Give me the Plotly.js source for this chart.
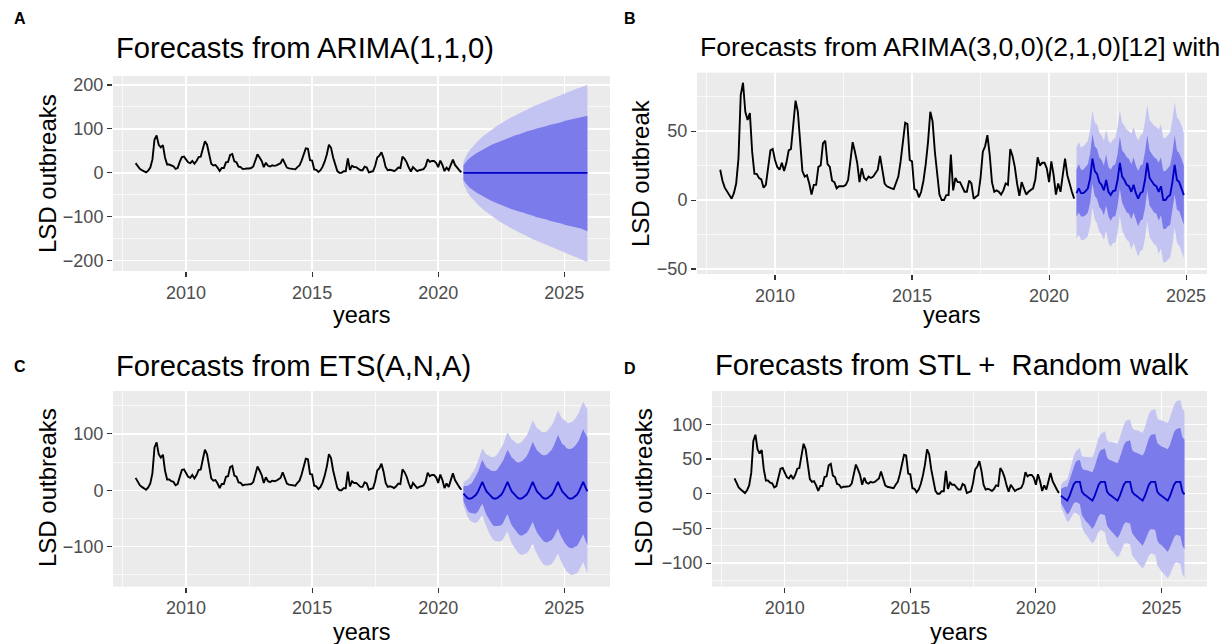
<!DOCTYPE html>
<html>
<head>
<meta charset="utf-8">
<script src="https://cdn.plot.ly/plotly-3.0.1.min.js"></script>
<style>html,body{margin:0;padding:0;background:#fff;}#chart{width:1223px;height:644px;}</style>
</head>
<body>
<div id="chart"></div>
<script>
// ---------- data ----------
const histStart = 2008;            // monthly series, Jan 2008 .. Dec 2020
const hist = [
  22, 14, 9, 6, 3, 1, 5, 12, 30, 76, 85, 64,
  58, 63, 35, 19, 19, 16, 15, 9, 11, 25, 36, 37,
  29, 24, 22, 27, 21, 27, 36, 37, 55, 72, 64, 40,
  21, 17, 18, 12, 4, 11, 11, 24, 25, 41, 43, 26,
  24, 14, 13, 8.5, 10, 10, 10, 11, 14.5, 28, 42, 35,
  27, 13, 23, 16, 14.5, 17, 16, 17, 20, 22, 32, 20,
  12, 10, 9, 8.5, 8, 13, 17, 28, 42, 56, 55, 29,
  28, 8, 7, 2, 6, 14, 26, 42, 64, 57, 35, 18,
  4, 0, 0, 3.6, 3.6, 33, 7, 16, 13, 13, 9, 6,
  6, 14, 12, 1, 2.4, 3.6, 16, 35, 39, 47, 33, 13,
  6, 7, 6, 4, 7, 12, 11, 37, 32, 24, 12, 3,
  13, 8.5, 4, 6, 7, 8.5, 15, 31, 25, 27, 27, 23,
  13, 28, 18, 4, 12, 6, 18, 30, 18, 11, 6, 1
];
const fcStart = 2021;              // forecasts start Jan 2021

// A: ARIMA(1,1,0), 60 months
const aMean = [0,0,0,0,0,0,0,0,0,0,0,0, 0,0,0,0,0,0,0,0,0,0,0,0, 0,0,0,0,0,0,0,0,0,0,0,0, 0,0,0,0,0,0,0,0,0,0,0,0, 0,0,0,0,0,0,0,0,0,0,0,0];
const aHi80 = [17,24,29,34,38,41,44,47,50,53,56,58, 61,63,65,67,70,72,73,75,77,79,81,83, 84,86,87,89,90,92,94,95,96,98,99,101, 102,103,105,106,107,109,110,111,112,114,115,116, 118,119,120,121,122,124,125,125,127,128,129,130];
const aLo80 = [-17,-24,-29,-34,-38,-41,-44,-47,-50,-53,-56,-58, -61,-63,-65,-67,-70,-72,-73,-75,-77,-79,-81,-83, -84,-86,-87,-89,-90,-92,-94,-95,-96,-98,-99,-101, -102,-103,-105,-106,-107,-109,-110,-111,-112,-114,-115,-116, -118,-119,-120,-121,-122,-124,-125,-126,-127,-129,-131,-133];
const aHi95 = [26,37,45,52,58,63,68,73,78,82,86,89, 93,97,100,103,107,110,113,116,118,121,124,127, 129,132,134,137,139,141,144,146,148,151,153,155, 157,159,161,163,165,167,169,171,173,175,177,179, 181,183,184,186,188,190,192,193,195,197,198,200];
const aLo95 = [-26,-37,-45,-52,-58,-63,-68,-73,-78,-82,-86,-89, -93,-97,-100,-103,-107,-110,-113,-116,-118,-121,-124,-127, -129,-132,-134,-137,-139,-141,-144,-146,-148,-151,-153,-155, -157,-159,-161,-163,-165,-167,-169,-171,-173,-175,-177,-179, -181,-183,-185,-187,-189,-191,-193,-195,-197,-199,-201,-203];

// B: ARIMA(3,0,0)(2,1,0)[12], 48 months
const bMean = [5,8.5,5,5,6.5,8.5,16,30,21,19,13,11, 7,14.5,6,3.6,6.5,7,14.5,27,17,14.5,11,10, 6,11,5,1,5,6,14.5,27,16,13,11,10, 6,10,0,0,2.4,3.6,13,25.5,14.5,13,8.5,3.6];
const bHi80 = [22,26,22,22,24,26,34,48,39,37,31,29, 25,33,24,22,25,26,33,46,36,34,31,30, 26,31,25,21,25,26,35,47,36,33,31,30, 27,31,21,21,23,25,34,47,36,34,30,25];
const bLo80 = [-12,-9,-12,-12,-11,-9,-2,12,3,1,-5,-7, -11,-4,-12,-15,-12,-12,-4,8,-2,-5,-9,-10, -14,-9,-15,-19,-15,-14,-6,7,-4,-7,-9,-10, -15,-11,-21,-21,-19,-18,-8,4,-7,-8,-13,-18];
const bHi95 = [38,42,38,39,41,43,51,65,56,55,49,47, 43,51,43,41,44,45,53,65,56,54,51,50, 48,53,47,43,47,48,57,69,58,56,54,53, 51,55,45,45,47,49,58,71,60,58,54,49];
const bLo95 = [-28,-25,-29,-29,-28,-26,-19,-5,-14,-17,-23,-25, -29,-22,-31,-34,-31,-31,-24,-11,-22,-25,-29,-30, -36,-31,-37,-41,-37,-36,-28,-15,-27,-30,-32,-33, -39,-35,-45,-45,-43,-42,-33,-20,-31,-33,-37,-42];

// C: ETS(A,N,A), 60 months
const cMean = [-6,-11,-14,-15,-14,-11,-8,-2,7,15,6,-2, -6,-11,-14,-15,-14,-11,-8,-2,7,15,6,-2, -6,-11,-14,-15,-14,-11,-8,-2,7,15,6,-2, -6,-11,-14,-15,-14,-11,-8,-2,7,15,6,-2, -6,-11,-14,-15,-14,-11,-8,-2,7,15,6,-2];
const cHi80 = [7,7,8,10,13,19,25,33,44,54,46,40, 38,35,34,34,36,41,46,53,63,72,65,58, 55,51,49,50,52,56,60,67,77,86,78,71, 68,64,62,62,64,68,72,79,89,98,90,82, 80,75,73,73,75,78,83,89,99,108,100,93];
const cLo80 = [-19,-29,-36,-40,-41,-41,-41,-37,-30,-24,-34,-44, -50,-57,-62,-64,-64,-63,-62,-57,-49,-42,-53,-62, -67,-73,-77,-80,-80,-78,-76,-71,-63,-56,-66,-75, -80,-86,-90,-92,-92,-90,-88,-83,-75,-68,-78,-86, -92,-97,-101,-103,-103,-100,-99,-93,-85,-78,-88,-97];
const cHi95 = [14,16,19,23,28,35,42,51,63,74,68,63, 62,59,59,60,63,69,74,82,93,103,96,90, 88,84,83,84,87,91,96,104,114,124,117,110, 108,104,103,103,106,110,115,122,132,142,134,127, 125,121,119,120,122,126,131,138,148,157,150,143];
const cLo95 = [-26,-38,-47,-53,-56,-57,-58,-55,-49,-44,-56,-67, -74,-81,-87,-90,-91,-91,-90,-86,-79,-73,-84,-94, -100,-106,-111,-114,-115,-113,-112,-108,-100,-94,-105,-114, -120,-126,-131,-133,-134,-132,-131,-126,-118,-112,-122,-131, -137,-143,-147,-150,-150,-148,-147,-142,-134,-127,-138,-147];

// D: STL + Random walk, 60 months
const dMean = [-3,-5,-8,-10,-4,5,13,17,17,17,3,-1, -3,-5,-8,-10,-4,5,13,17,17,17,3,-1, -3,-5,-8,-10,-4,5,13,17,17,17,3,-1, -3,-5,-8,-10,-4,5,13,17,17,17,3,-1, -3,-5,-8,-10,-4,5,13,17,17,17,3,-1];
const dHi80 = [7,9,10,10,19,30,40,46,48,49,37,34, 34,33,32,31,38,48,58,63,64,65,52,49, 48,47,45,44,51,61,70,75,76,77,63,60, 59,58,56,55,61,71,80,85,85,86,73,70, 68,67,65,64,70,80,89,93,94,95,81,78];
const dLo80 = [-13,-19,-26,-30,-27,-20,-14,-12,-14,-15,-31,-36, -40,-43,-48,-51,-46,-38,-32,-29,-30,-31,-46,-51, -54,-57,-61,-64,-59,-51,-44,-41,-42,-43,-57,-62, -65,-68,-72,-75,-69,-61,-54,-51,-51,-52,-67,-72, -74,-77,-81,-84,-78,-70,-63,-59,-60,-61,-75,-80];
const dHi95 = [13,17,19,21,31,43,54,61,64,66,54,53, 53,53,52,52,60,71,81,86,88,90,77,75, 75,74,73,72,80,90,99,105,106,107,95,92, 91,91,89,88,95,106,115,120,121,122,109,106, 106,105,103,102,109,119,128,133,134,135,122,119];
const dLo95 = [-19,-27,-35,-41,-39,-33,-28,-27,-30,-32,-48,-55, -59,-63,-68,-72,-68,-61,-55,-52,-54,-56,-71,-77, -81,-84,-89,-92,-88,-80,-73,-71,-72,-73,-89,-94, -97,-101,-105,-108,-103,-96,-89,-86,-87,-88,-103,-108, -112,-115,-119,-122,-117,-109,-102,-99,-100,-101,-116,-121];

const panelLetters = ['A', 'B', 'C', 'D'];
const panelTitles = ['Forecasts from ARIMA(1,1,0)', 'Forecasts from ARIMA(3,0,0)(2,1,0)[12] with',
                     'Forecasts from ETS(A,N,A)', 'Forecasts from STL +  Random walk'];
const yTitles = ['LSD outbreaks', 'LSD outbreak', 'LSD outbreaks', 'LSD outbreaks'];
const xTitle = 'years';

// ---------- helpers ----------
const W = 1223, H = 644;
const px = v => v / W;
const py = v => 1 - v / H;
function months(start, n) { return Array.from({length: n}, (_, i) => start + i / 12); }

const FONT = 'Liberation Sans, Arial, Helvetica, sans-serif';
const COL_95 = '#c4c4f2', COL_80 = '#7b7beb', COL_MEAN = '#0000c4';

const panels = [
  {mean: aMean, lo80: aLo80, hi80: aHi80, lo95: aLo95, hi95: aHi95,
   dom: [113, 610, 76, 271], xr: [2007.104, 2026.813], yr: [-223.5, 220.5], ydt: 100, y0: -200, ymin0: -150, ymindt: 100},
  {mean: bMean, lo80: bLo80, hi80: bHi80, lo95: bLo95, hi95: bHi95,
   dom: [697, 1207, 72.7, 274], xr: [2007.154, 2025.763], yr: [-53.6, 92.3], ydt: 50, y0: -50, ymin0: -25, ymindt: 50},
  {mean: cMean, lo80: cLo80, hi80: cHi80, lo95: cLo95, hi95: cHi95,
   dom: [113, 610, 391, 586.7], xr: [2007.104, 2026.813], yr: [-171, 176], ydt: 100, y0: -100, ymin0: -150, ymindt: 100},
  {mean: dMean, lo80: dLo80, hi80: dHi80, lo95: dLo95, hi95: dHi95,
   dom: [712, 1207, 391, 586.7], xr: [2007.104, 2026.813], yr: [-134, 148], ydt: 50, y0: -100, ymin0: -125, ymindt: 50}
];

const traces = [];
const layout = {
  width: W, height: H, margin: {l: 0, r: 0, t: 0, b: 0},
  paper_bgcolor: '#ffffff', plot_bgcolor: '#ebebeb', showlegend: false,
  font: {family: FONT, color: '#000'},
  annotations: []
};

panels.forEach((p, k) => {
  const n = k === 0 ? '' : String(k + 1);
  const xa = 'x' + n, ya = 'y' + n;
  const th = months(histStart, hist.length);
  const tf = months(fcStart, p.mean.length);
  const base = {xaxis: xa, yaxis: ya, hoverinfo: 'skip', showlegend: false};
  traces.push(Object.assign({}, base, {x: th, y: hist, mode: 'lines', line: {color: '#000', width: 1.9}}));
  traces.push(Object.assign({}, base, {x: tf, y: p.lo95, mode: 'lines', line: {width: 0, color: COL_95}}));
  traces.push(Object.assign({}, base, {x: tf, y: p.hi95, mode: 'lines', line: {width: 0, color: COL_95}, fill: 'tonexty', fillcolor: COL_95}));
  traces.push(Object.assign({}, base, {x: tf, y: p.lo80, mode: 'lines', line: {width: 0, color: COL_80}}));
  traces.push(Object.assign({}, base, {x: tf, y: p.hi80, mode: 'lines', line: {width: 0, color: COL_80}, fill: 'tonexty', fillcolor: COL_80}));
  traces.push(Object.assign({}, base, {x: tf, y: p.mean, mode: 'lines', line: {color: COL_MEAN, width: 1.9}}));

  const [l, r, t, b] = p.dom;
  const tickfont = {family: FONT, size: 18, color: '#4d4d4d'};
  layout['xaxis' + n] = {
    domain: [px(l), px(r)], anchor: ya, range: p.xr, tick0: 2010, dtick: 5,
    ticks: 'outside', ticklen: 5, tickwidth: 1.1, tickcolor: '#333333', tickfont: tickfont,
    showgrid: true, gridcolor: '#ffffff', gridwidth: 1.5, zeroline: false, showline: false,
    minor: {tick0: 2007.5, dtick: 5, showgrid: true, gridcolor: '#ffffff', gridwidth: 0.7},
    fixedrange: true
  };
  layout['yaxis' + n] = {
    domain: [py(b), py(t)], anchor: xa, range: p.yr, tick0: p.y0, dtick: p.ydt,
    ticks: 'outside', ticklen: 5, tickwidth: 1.1, tickcolor: '#333333', tickfont: tickfont,
    showgrid: true, gridcolor: '#ffffff', gridwidth: 1.5, zeroline: false, showline: false,
    minor: {tick0: p.ymin0, dtick: p.ymindt, showgrid: true, gridcolor: '#ffffff', gridwidth: 0.7},
    fixedrange: true
  };
});

// text positions and sizes
const letterPos = [[20, 19], [630, 19], [20, 366], [630, 368]];
const titlePos = [[114, 48], [698, 47], [114, 366], [713, 365]];
const titleSize = [29.2, 26.6, 29.2, 29.2];
const yTitlePos = [[47, 174], [641, 173], [47, 488], [643, 488]];
const xTitlePos = [[361, 315], [951, 315], [361, 632], [958, 632]];

panels.forEach((p, k) => {
  layout.annotations.push({xref: 'paper', yref: 'paper', x: px(letterPos[k][0]), y: py(letterPos[k][1]),
    xanchor: 'center', yanchor: 'middle', showarrow: false, text: '<b>' + panelLetters[k] + '</b>',
    font: {family: FONT, size: 16, color: '#000'}});
  layout.annotations.push({xref: 'paper', yref: 'paper', x: px(titlePos[k][0]), y: py(titlePos[k][1]),
    xanchor: 'left', yanchor: 'middle', showarrow: false, text: panelTitles[k],
    font: {family: FONT, size: titleSize[k], color: '#000'}});
  layout.annotations.push({xref: 'paper', yref: 'paper', x: px(yTitlePos[k][0]), y: py(yTitlePos[k][1]),
    xanchor: 'center', yanchor: 'middle', showarrow: false, text: yTitles[k], textangle: -90,
    font: {family: FONT, size: 24, color: '#000'}});
  layout.annotations.push({xref: 'paper', yref: 'paper', x: px(xTitlePos[k][0]), y: py(xTitlePos[k][1]),
    xanchor: 'center', yanchor: 'middle', showarrow: false, text: xTitle,
    font: {family: FONT, size: 23.5, color: '#000'}});
});

Plotly.newPlot('chart', traces, layout, {staticPlot: true, displayModeBar: false});
</script>
</body>
</html>
